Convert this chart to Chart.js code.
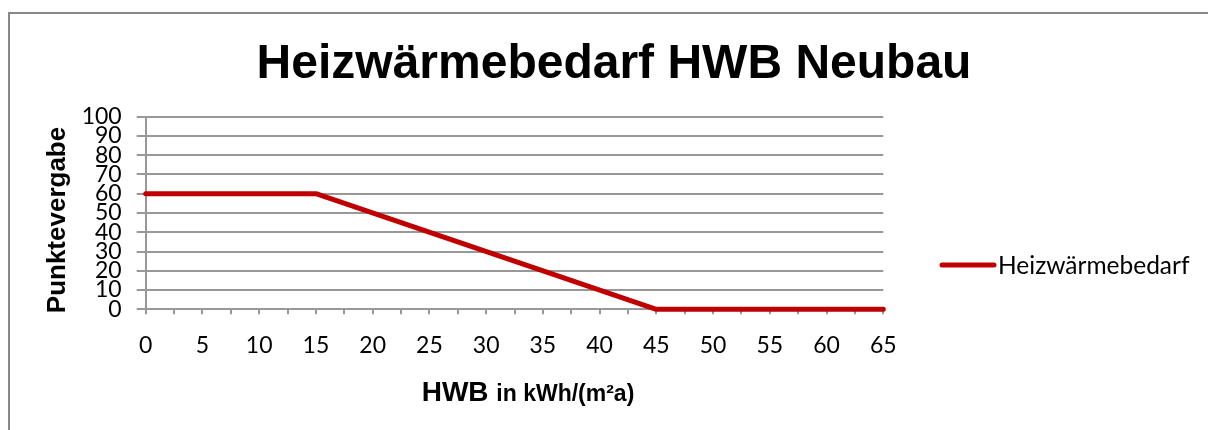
<!DOCTYPE html>
<html>
<head>
<meta charset="utf-8">
<script src="https://cdn.jsdelivr.net/npm/chart.js@4"></script>
<style>
  html, body { margin: 0; padding: 0; background: #ffffff; }
  #wrap { width: 1208px; height: 430px; position: relative; }
</style>
</head>
<body>
<div id="wrap"><canvas id="c" width="1208" height="430"></canvas></div>
<script>
// ---- Data ----
const chartTitle = 'Heizwärmebedarf HWB Neubau';
const seriesName = 'Heizwärmebedarf';
const hwbValues = [0, 15, 45, 65];      // HWB in kWh/(m²a)
const pointValues = [60, 60, 0, 0];     // Punktevergabe
const yAxisTitle = 'Punktevergabe';
const xAxisTitleMain = 'HWB';
const xAxisTitleUnit = 'in kWh/(m²a)';
const xMin = 0, xMax = 65, xStep = 2.5, xLabelStep = 5;
const yMin = 0, yMax = 100, yStep = 10;

const LINE_COLOR = '#C00000';
const GRID_COLOR = '#989898';
const TICK_FONT = 'Lato, "Open Sans", sans-serif';
const BOLD_FONT = '"Liberation Sans", Arial, sans-serif';

const points = hwbValues.map((x, i) => ({ x: x, y: pointValues[i] }));

const decor = {
  id: 'decor',
  beforeDraw(chart) {
    const ctx = chart.ctx;
    ctx.save();
    ctx.fillStyle = '#ffffff';
    ctx.fillRect(0, 0, chart.width, chart.height);
    ctx.strokeStyle = '#888888';
    ctx.lineWidth = 2;
    ctx.strokeRect(9, 13, chart.width + 10, chart.height + 10);
    ctx.restore();
  },
  afterDraw(chart) {
    const ctx = chart.ctx;
    const area = chart.chartArea;
    ctx.save();
    // Title
    ctx.fillStyle = '#000000';
    ctx.font = 'bold 48px ' + BOLD_FONT;
    ctx.textAlign = 'center';
    ctx.textBaseline = 'alphabetic';
    ctx.fillText(chartTitle, 614, 78);

    // X axis title (two sizes)
    ctx.textAlign = 'left';
    const f1 = 'bold 28px ' + BOLD_FONT;
    const f2 = 'bold 23px ' + BOLD_FONT;
    ctx.font = f1; const w1 = ctx.measureText(xAxisTitleMain + ' ').width;
    ctx.font = f2; const w2 = ctx.measureText(xAxisTitleUnit).width;
    const cx = 528;
    let sx = cx - (w1 + w2) / 2;
    ctx.font = f1; ctx.fillText(xAxisTitleMain + ' ', sx, 401);
    ctx.font = f2; ctx.fillText(xAxisTitleUnit, sx + w1, 401);

    // Y axis title
    ctx.save();
    ctx.translate(58, 220);
    ctx.rotate(-Math.PI / 2);
    ctx.font = 'bold 26px ' + BOLD_FONT;
    ctx.textAlign = 'center';
    ctx.textBaseline = 'middle';
    ctx.fillText(yAxisTitle, 0, 0);
    ctx.restore();

    // Legend
    const ds = chart.data.datasets[0];
    ctx.strokeStyle = ds.borderColor;
    ctx.lineWidth = 5;
    ctx.lineCap = 'round';
    ctx.beginPath();
    ctx.moveTo(942, 265);
    ctx.lineTo(994, 265);
    ctx.stroke();
    ctx.font = '24.5px ' + TICK_FONT;
    ctx.textAlign = 'left';
    ctx.textBaseline = 'middle';
    ctx.fillText(ds.label, 998, 266);
    ctx.restore();
  }
};

new Chart(document.getElementById('c'), {
  type: 'line',
  data: {
    datasets: [{
      label: seriesName,
      data: points,
      borderColor: LINE_COLOR,
      backgroundColor: LINE_COLOR,
      borderWidth: 5,
      borderCapStyle: 'round',
      borderJoinStyle: 'round',
      pointRadius: 0,
      tension: 0,
      clip: false
    }]
  },
  options: {
    responsive: false,
    animation: false,
    events: [],
    layout: { padding: { top: 116.7, left: 0, right: 1208 - 883.3, bottom: 0 } },
    plugins: {
      legend: { display: false },
      title: { display: false },
      tooltip: { enabled: false }
    },
    scales: {
      x: {
        type: 'linear',
        min: xMin, max: xMax,
        afterFit(scale) { scale.height = 430 - 309.3; },
        afterBuildTicks(scale) {
          const t = [];
          for (let v = xMin; v <= xMax + 1e-9; v += xStep) t.push({ value: v });
          scale.ticks = t;
        },
        ticks: {
          autoSkip: false,
          maxRotation: 0,
          color: '#000000',
          font: { family: TICK_FONT, size: 23 },
          padding: 17,
          callback(v) { return (Math.abs(v / xLabelStep - Math.round(v / xLabelStep)) < 1e-6) ? String(v) : ''; }
        },
        grid: { drawOnChartArea: false, drawTicks: true, tickLength: 5, color: GRID_COLOR, lineWidth: 2 },
        border: { display: true, color: GRID_COLOR, width: 2 }
      },
      y: {
        type: 'linear',
        min: yMin, max: yMax,
        afterFit(scale) { scale.width = 145.7; },
        ticks: {
          stepSize: yStep,
          autoSkip: false,
          color: '#000000',
          font: { family: TICK_FONT, size: 23, lineHeight: 1 },
          padding: 15
        },
        grid: { color: GRID_COLOR, lineWidth: 2, tickLength: 9 },
        border: { display: true, color: GRID_COLOR, width: 2 }
      }
    }
  },
  plugins: [decor]
});
</script>
</body>
</html>
